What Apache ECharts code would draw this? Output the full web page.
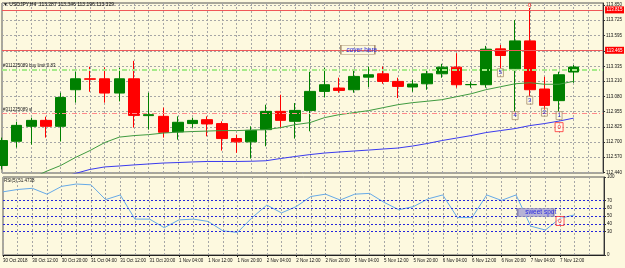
<!DOCTYPE html>
<html>
<head>
<meta charset="utf-8">
<script src="https://cdn.jsdelivr.net/npm/echarts@6.0.0/dist/echarts.min.js"></script>
<style>
html, body { margin: 0; padding: 0; background: #fdf9df; }
#main { width: 625px; height: 268px; }
</style>
</head>
<body>
<div id="main"></div>
<script>
// USDJPY H4 bars, 30 Oct 04:00 .. 7 Nov 16:00
var times = ['30 Oct 04:00', '30 Oct 08:00', '30 Oct 12:00', '30 Oct 16:00', '30 Oct 20:00',
    '31 Oct 00:00', '31 Oct 04:00', '31 Oct 08:00', '31 Oct 12:00', '31 Oct 16:00', '31 Oct 20:00',
    '1 Nov 00:00', '1 Nov 04:00', '1 Nov 08:00', '1 Nov 12:00', '1 Nov 16:00', '1 Nov 20:00',
    '2 Nov 00:00', '2 Nov 04:00', '2 Nov 08:00', '2 Nov 12:00', '2 Nov 16:00', '2 Nov 20:00',
    '5 Nov 00:00', '5 Nov 04:00', '5 Nov 08:00', '5 Nov 12:00', '5 Nov 16:00', '5 Nov 20:00',
    '6 Nov 00:00', '6 Nov 04:00', '6 Nov 08:00', '6 Nov 12:00', '6 Nov 16:00', '6 Nov 20:00',
    '7 Nov 00:00', '7 Nov 04:00', '7 Nov 08:00', '7 Nov 12:00', '7 Nov 16:00'];
var firstLabel = '30 Oct 2018';

var opens  = [112.500, 112.704, 112.830, 112.880, 112.830, 113.138, 113.230, 113.230, 113.110, 113.230,
              112.920, 112.914, 112.783, 112.853, 112.886, 112.853, 112.727, 112.699, 112.802, 112.956,
              112.872, 112.964, 113.124, 113.152, 113.138, 113.244, 113.272, 113.208, 113.161, 113.188,
              113.272, 113.328, 113.180, 113.180, 113.482, 113.314, 113.549, 113.144, 113.046, 113.287];
var highs  = [112.735, 112.869, 112.903, 112.911, 113.113, 113.289, 113.331, 113.325, 113.322, 113.381,
              113.113, 112.987, 112.914, 112.903, 112.914, 112.872, 112.760, 112.830, 113.012, 113.096,
              113.026, 113.289, 113.322, 113.239, 113.300, 113.333, 113.333, 113.239, 113.222, 113.306,
              113.356, 113.446, 113.205, 113.507, 113.515, 113.725, 113.826, 113.247, 113.289, 113.346];
var lows   = [112.467, 112.651, 112.676, 112.735, 112.702, 113.029, 113.121, 113.029, 113.040, 112.819,
              112.802, 112.735, 112.718, 112.819, 112.746, 112.626, 112.607, 112.559, 112.662, 112.819,
              112.727, 112.788, 113.073, 113.113, 113.113, 113.161, 113.188, 113.068, 113.121, 113.138,
              113.239, 113.155, 113.155, 113.155, 113.320, 112.956, 113.082, 112.970, 112.956, 113.196];
var closes = [112.710, 112.838, 112.880, 112.830, 113.073, 113.230, 113.226, 113.110, 113.230, 112.922,
              112.928, 112.780, 112.864, 112.880, 112.850, 112.727, 112.699, 112.796, 112.956, 112.880,
              112.964, 113.124, 113.180, 113.132, 113.250, 113.264, 113.208, 113.166, 113.186, 113.272,
              113.328, 113.180, 113.182, 113.479, 113.426, 113.549, 113.138, 113.006, 113.264, 113.329];

var maFast = [112.27, 112.33, 112.39, 112.450, 112.500, 112.567, 112.626, 112.693, 112.739, 112.752,
              112.760, 112.773, 112.781, 112.786, 112.790, 112.794, 112.794, 112.798, 112.802, 112.819,
              112.844, 112.861, 112.903, 112.928, 112.945, 112.962, 112.987, 113.012, 113.029, 113.041,
              113.054, 113.079, 113.104, 113.138, 113.163, 113.188, 113.197, 113.184, 113.184, 113.209];
var maSlow = [112.30, 112.33, 112.36, 112.39, 112.40, 112.433, 112.467, 112.488, 112.496, 112.505,
              112.513, 112.521, 112.525, 112.530, 112.534, 112.534, 112.534, 112.536, 112.540, 112.559,
              112.576, 112.592, 112.605, 112.614, 112.622, 112.630, 112.639, 112.647, 112.664, 112.685,
              112.710, 112.731, 112.752, 112.777, 112.794, 112.811, 112.836, 112.853, 112.874, 112.899];
var rsi = [81, 84, 85.5, 78, 88, 91, 90, 71, 77, 46,
           46, 35, 45, 46, 43, 31, 29, 48, 64, 54,
           62, 75, 78, 70.5, 78, 79, 67.5, 58, 62, 72,
           77, 48, 48, 77, 70, 77, 37, 32, 47, 51.47];

var priceTicks = [113.850, 113.725, 113.595, 113.465, 113.335, 113.210, 113.080, 112.955, 112.825, 112.700, 112.570, 112.440];
var rsiTicks = [0, 30, 40, 50, 60, 70, 100];
var rsiLevels = [70, 60, 50, 40, 30];

// horizontal lines: price levels and orders
var redLevels = [113.815, 113.465];
var buyLimit = 113.306, stopLoss = 112.942, lastPrice = 113.329;

// text notes [bar index, price, text]
var waveNotes = [[38, 112.920, '1'], [37, 112.949, '2'], [36, 113.050, '3'], [35, 112.920, '4'], [34, 113.281, '5']];
var redNotes = [[38, 112.823, '0']];
var topNote = [36, 113.851, '0'];
var coverNote = [24, 113.474, 'cover here'];
var rsiNote = [36, 54.5, 'sweet spot'];
var rsiRedNote = [38, 43.6, '0'];

var FONT = 'Liberation Sans';
var SMALL = 4.5;

var cats = times.concat(['', '']);
var candles = opens.map(function (o, i) {
    return [o, closes[i], lows[i], highs[i]];
});
var gridDot = { color: '#a6a6a6', type: [2, 2], width: 1 };

var points = waveNotes.map(function (n) {
    return {
        coord: [n[0], n[1]], value: n[2], symbol: 'rect', symbolSize: [6, 8],
        itemStyle: { color: 'rgba(0,0,0,0)', borderColor: '#a89070', borderWidth: 0.8 },
        label: { show: true, formatter: n[2], color: '#2a2ad0', fontSize: 6, fontFamily: FONT }
    };
});
redNotes.forEach(function (n) {
    points.push({
        coord: [n[0], n[1]], value: n[2], symbol: 'rect', symbolSize: [8, 9],
        itemStyle: { color: 'rgba(255,255,255,0.4)', borderColor: '#ff3030', borderWidth: 0.8 },
        label: { show: true, formatter: n[2], color: '#ff2020', fontSize: 6, fontFamily: FONT }
    });
});
points.push({
    coord: [topNote[0], topNote[1]], value: topNote[2], symbol: 'rect', symbolSize: [1, 1],
    itemStyle: { color: 'rgba(0,0,0,0)' },
    label: { show: true, formatter: topNote[2], color: '#ff2020', fontSize: 6, fontFamily: FONT }
});
points.push({
    coord: [coverNote[0], coverNote[1]], value: coverNote[2], symbol: 'rect', symbolSize: [34, 9],
    symbolOffset: [4, 0],
    itemStyle: { color: 'rgba(0,0,0,0)', borderColor: '#a89070', borderWidth: 0.8 },
    label: { show: true, formatter: coverNote[2], color: '#2a2ae0', fontSize: 6.5, fontFamily: FONT, offset: [4, 0] }
});

var priceLines = [
    { yAxis: redLevels[0], lineStyle: { color: '#f05858', type: 'solid', width: 1 },
      label: { show: true, position: 'end', distance: 2, formatter: '113.815', backgroundColor: '#ff0000', color: '#fff',
               padding: [1, 1.5], fontSize: SMALL, fontFamily: FONT } },
    { yAxis: redLevels[1], lineStyle: { color: '#f05858', type: 'solid', width: 1 },
      label: { show: true, position: 'end', distance: 2, formatter: '113.465', backgroundColor: '#ff0000', color: '#fff',
               padding: [1, 1.5], fontSize: SMALL, fontFamily: FONT } },
    { yAxis: buyLimit, lineStyle: { color: '#a6ea8a', type: [5, 2, 1, 2], width: 2 },
      label: { show: true, position: 'insideStartTop', distance: 1, formatter: '#311225089 buy limit 0.83', color: '#222',
               fontSize: SMALL, fontFamily: FONT } },
    { yAxis: stopLoss, lineStyle: { color: '#ff8a8a', type: [5, 2, 1, 2], width: 1 },
      label: { show: true, position: 'insideStartTop', distance: 1, formatter: '#311225089 sl', color: '#222',
               fontSize: SMALL, fontFamily: FONT } },
    { yAxis: lastPrice, lineStyle: { opacity: 0 },
      label: { show: true, position: 'end', distance: 2, formatter: '113.329', backgroundColor: '#000', color: '#fff',
               padding: [1, 1.5], fontSize: SMALL, fontFamily: FONT } }
];

var chart = echarts.init(document.getElementById('main'));
chart.setOption({
    backgroundColor: '#fdf9df',
    animation: false,
    title: [{
        text: '\u25BC USDJPY,H4  113.287 113.346 113.196 113.329',
        left: 3, top: 2, padding: 0,
        textStyle: { fontSize: 5, fontWeight: 'normal', color: '#111', fontFamily: FONT }
    }, {
        text: 'RSI(5) 51.4738',
        left: 4, top: 178, padding: 0,
        textStyle: { fontSize: SMALL, fontWeight: 'normal', color: '#111', fontFamily: FONT }
    }],
    grid: [
        { left: 2, top: 3, width: 602, height: 170, show: true, borderColor: '#555', borderWidth: 1 },
        { left: 2, top: 177, width: 602, height: 78, show: true, borderColor: '#555', borderWidth: 1 }
    ],
    xAxis: [{
        type: 'category', gridIndex: 0, data: cats, boundaryGap: false,
        axisLine: { show: false }, axisTick: { show: false }, axisLabel: { show: false },
        splitLine: { show: true, interval: 0, lineStyle: gridDot }
    }, {
        type: 'category', gridIndex: 1, data: cats, boundaryGap: false,
        axisLine: { show: true, lineStyle: { color: '#222' } },
        axisTick: { show: true, length: 2, interval: function (i) { return i % 2 === 0 && i < times.length; }, lineStyle: { color: '#222' } },
        axisLabel: {
            show: true, interval: 0, align: 'left', margin: 3, fontSize: SMALL, color: '#111', fontFamily: FONT,
            formatter: function (v, i) {
                if (i % 2 !== 0 || !v) return '';
                return i === 0 ? firstLabel : v;
            }
        },
        splitLine: { show: true, interval: 0, lineStyle: gridDot }
    }],
    yAxis: [{
        type: 'value', gridIndex: 0, position: 'right', min: 112.437, max: 113.868, scale: true,
        axisLine: { show: true, lineStyle: { color: '#333' } },
        axisTick: { show: true, length: 2, customValues: priceTicks, lineStyle: { color: '#333' } },
        axisLabel: { show: true, margin: 3, fontSize: SMALL, color: '#111', fontFamily: FONT, customValues: priceTicks,
                     formatter: function (v) { return v.toFixed(3); } },
        splitLine: { show: true, lineStyle: gridDot }
    }, {
        type: 'value', gridIndex: 1, position: 'right', min: 0, max: 100,
        axisLine: { show: true, lineStyle: { color: '#333' } },
        axisTick: { show: true, length: 2, customValues: rsiTicks, lineStyle: { color: '#333' } },
        axisLabel: { show: true, margin: 3, fontSize: SMALL, color: '#111', fontFamily: FONT, customValues: rsiTicks },
        splitLine: { show: false }
    }],
    series: [{
        type: 'candlestick', xAxisIndex: 0, yAxisIndex: 0, data: candles, barWidth: 11, clip: false,
        itemStyle: { color: '#008000', color0: '#ff0000', borderColor: '#008000', borderColor0: '#ff0000', borderWidth: 1 },
        markLine: { silent: true, symbol: ['none', 'none'], data: priceLines },
        markPoint: { silent: true, data: points }
    }, {
        type: 'line', xAxisIndex: 0, yAxisIndex: 0, data: maFast, symbol: 'none',
        lineStyle: { color: '#3f9a3f', width: 1 }, z: 3
    }, {
        type: 'line', xAxisIndex: 0, yAxisIndex: 0, data: maSlow, symbol: 'none',
        lineStyle: { color: '#3a3aee', width: 1 }, z: 3
    }, {
        type: 'line', xAxisIndex: 1, yAxisIndex: 1, data: rsi, symbol: 'none',
        lineStyle: { color: '#66aae8', width: 1 },
        markLine: {
            silent: true, symbol: ['none', 'none'], label: { show: false },
            lineStyle: { color: '#2424dc', type: [2, 2], width: 1 },
            data: rsiLevels.map(function (v) { return { yAxis: v }; })
        },
        markPoint: {
            silent: true,
            data: [{
                coord: [rsiNote[0], rsiNote[1]], value: rsiNote[2], symbol: 'rect', symbolSize: [36, 8], symbolOffset: [5, 0],
                itemStyle: { color: '#b6b2d6', borderColor: '#8a86b0', borderWidth: 0.8 },
                label: { show: true, formatter: rsiNote[2], color: '#2a2ae0', fontSize: 6.5, fontFamily: FONT, offset: [5, 0] }
            }, {
                coord: [rsiRedNote[0], rsiRedNote[1]], value: rsiRedNote[2], symbol: 'rect', symbolSize: [8, 9],
                itemStyle: { color: 'rgba(255,255,255,0.4)', borderColor: '#ff3030', borderWidth: 0.8 },
                label: { show: true, formatter: rsiRedNote[2], color: '#ff2020', fontSize: 6, fontFamily: FONT }
            }]
        }
    }]
});
</script>
</body>
</html>
